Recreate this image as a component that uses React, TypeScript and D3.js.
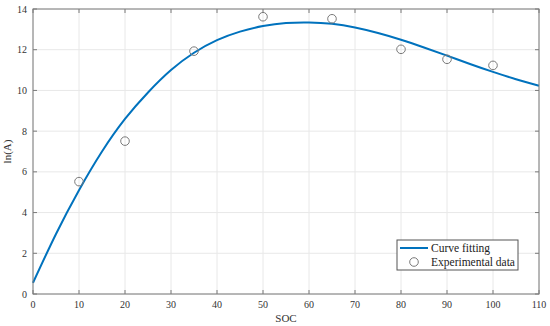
import * as d3 from 'd3';

// fitted curve
const curveX = [0, 5, 10, 15, 20, 25, 30, 35, 40, 45, 50, 55, 60, 65, 70, 75, 80, 85, 90, 95, 100, 105, 110];
const curveY = [0.55, 2.95, 5.1, 7.0, 8.6, 9.9, 11.0, 11.85, 12.47, 12.89, 13.16, 13.31, 13.34, 13.27, 13.09, 12.82, 12.49, 12.11, 11.71, 11.3, 10.91, 10.55, 10.23];

// experimental points
const expX = [10, 20, 35, 50, 65, 80, 90, 100];
const expY = [5.52, 7.51, 11.93, 13.62, 13.52, 12.02, 11.53, 11.23];

const xTicks = [0, 10, 20, 30, 40, 50, 60, 70, 80, 90, 100, 110];
const yTicks = [0, 2, 4, 6, 8, 10, 12, 14];

const W = 550;
const H = 326;
const margin = { top: 9, right: 11, bottom: 32, left: 33 };
const FONT = '"Liberation Serif", "Times New Roman", serif';
const AXIS = '#7a7a7a';

export default function App() {
  const iw = W - margin.left - margin.right;
  const ih = H - margin.top - margin.bottom;
  const x = d3.scaleLinear().domain([0, 110]).range([0, iw]);
  const y = d3.scaleLinear().domain([0, 14]).range([ih, 0]);

  const pts: [number, number][] = curveX.map((v, i) => [v, curveY[i]]);
  const line = d3.line<[number, number]>()
    .x(d => x(d[0]))
    .y(d => y(d[1]))
    .curve(d3.curveNatural);

  const lx = 364;
  const ly = 231;

  return (
    <svg width={W} height={H} style={{ position: 'absolute', left: 0, top: 0, background: '#fff' }}>
      <g transform={`translate(${margin.left},${margin.top})`} fontFamily={FONT}>
        {/* grid */}
        {xTicks.map(t => (
          <line key={'gx' + t} x1={x(t)} x2={x(t)} y1={0} y2={ih} stroke="#e8e8e8" strokeWidth={1} />
        ))}
        {yTicks.map(t => (
          <line key={'gy' + t} x1={0} x2={iw} y1={y(t)} y2={y(t)} stroke="#e8e8e8" strokeWidth={1} />
        ))}

        {/* curve */}
        <path d={line(pts) || ''} fill="none" stroke="#0072BD" strokeWidth={2} />

        {/* points */}
        {expX.map((v, i) => (
          <circle key={'p' + i} cx={x(v)} cy={y(expY[i])} r={4.3} fill="none" stroke="#7a7a7a" strokeWidth={1} />
        ))}

        {/* box */}
        <rect x={0} y={0} width={iw} height={ih} fill="none" stroke={AXIS} strokeWidth={1} />

        {/* ticks */}
        {xTicks.map(t => (
          <g key={'tx' + t}>
            <line x1={x(t)} x2={x(t)} y1={ih} y2={ih - 4} stroke={AXIS} />
            <line x1={x(t)} x2={x(t)} y1={0} y2={4} stroke={AXIS} />
            <text x={x(t)} y={ih + 14} textAnchor="middle" fontSize={10} fill="#333">{t}</text>
          </g>
        ))}
        {yTicks.map(t => (
          <g key={'ty' + t}>
            <line x1={0} x2={4} y1={y(t)} y2={y(t)} stroke={AXIS} />
            <line x1={iw} x2={iw - 4} y1={y(t)} y2={y(t)} stroke={AXIS} />
            <text x={-6} y={y(t)} dy="0.35em" textAnchor="end" fontSize={10} fill="#333">{t}</text>
          </g>
        ))}

        {/* axis labels */}
        <text x={iw / 2} y={ih + 28} textAnchor="middle" fontSize={11} fill="#333">SOC</text>
        <text transform={`translate(${-22},${ih / 2}) rotate(-90)`} textAnchor="middle" fontSize={11} fill="#333">ln(A)</text>

        {/* legend */}
        <g transform={`translate(${lx},${ly})`}>
          <rect x={0} y={0} width={121} height={30} fill="#fff" stroke="#555" strokeWidth={1} />
          <line x1={3} x2={31} y1={8} y2={8} stroke="#0072BD" strokeWidth={2} />
          <circle cx={17} cy={22} r={4.3} fill="none" stroke="#7a7a7a" strokeWidth={1} />
          <text x={34} y={8} dy="0.35em" fontSize={11.5} fill="#222">Curve fitting</text>
          <text x={34} y={22} dy="0.35em" fontSize={11.5} fill="#222">Experimental data</text>
        </g>
      </g>
    </svg>
  );
}
